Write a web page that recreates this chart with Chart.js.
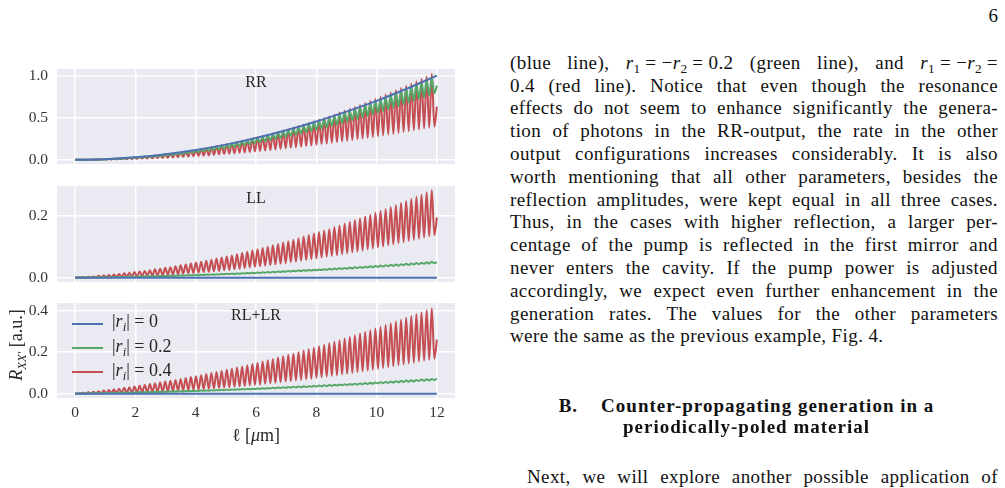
<!DOCTYPE html>
<html>
<head>
<meta charset="utf-8">
<script src="https://cdn.jsdelivr.net/npm/chart.js@4.4.1/dist/chart.umd.min.js"></script>
<style>
  html,body{margin:0;padding:0;}
  body{width:1005px;height:488px;background:#fff;position:relative;overflow:hidden;font-family:"Liberation Serif",serif;color:#111;}
  canvas{position:absolute;left:0;}
  .ln{position:absolute;left:510px;width:488px;font-size:19px;line-height:22.8px;letter-spacing:0.4px;text-align:justify;text-align-last:justify;white-space:nowrap;}
  .ln.last{text-align:left;text-align-last:left;}
  sub{font-size:70%;vertical-align:-0.3em;line-height:0;letter-spacing:0;}
  .hd{position:absolute;left:496px;width:501px;font-size:19px;line-height:22.8px;font-weight:bold;text-align:center;letter-spacing:1px;white-space:nowrap;}
  .lab{position:absolute;font-size:16px;line-height:20px;color:#262626;text-align:center;white-space:nowrap;}
  .leg{position:absolute;left:112px;font-size:18px;line-height:22px;color:#262626;white-space:nowrap;}
  .sw{position:absolute;left:72px;width:31px;height:2px;}
</style>
</head>
<body>
<canvas id="c1" width="470" height="135" style="top:49px"></canvas>
<canvas id="c2" width="470" height="136" style="top:166px"></canvas>
<canvas id="c3" width="470" height="165" style="top:283px"></canvas>

<div class="lab" style="left:206px;width:100px;top:72px;">RR</div>
<div class="lab" style="left:206px;width:100px;top:188px;">LL</div>
<div class="lab" style="left:206px;width:100px;top:305px;">RL+LR</div>

<div class="sw" style="top:322.5px;background:#4C72B0"></div>
<div class="sw" style="top:347px;background:#55A868"></div>
<div class="sw" style="top:371px;background:#C44E52"></div>
<div class="leg" style="top:310px;">|<i>r<sub>i</sub></i>|&#8197;=&#8197;0</div>
<div class="leg" style="top:334.5px;">|<i>r<sub>i</sub></i>|&#8197;=&#8197;0.2</div>
<div class="leg" style="top:358.5px;">|<i>r<sub>i</sub></i>|&#8197;=&#8197;0.4</div>

<div class="lab" style="left:-59px;width:150px;top:334px;font-size:18px;line-height:22px;transform:rotate(-90deg);"><i>R</i><sub><i>XX′</i></sub> [a.u.]</div>
<div class="lab" style="left:196px;width:120px;top:424px;font-size:18px;line-height:22px;">ℓ [<i>μ</i>m]</div>

<div style="position:absolute;left:900px;width:98px;text-align:right;top:5.2px;font-size:19px;line-height:22.8px;">6</div>

<div class="ln" style="top:51.7px">(blue line), <i>r</i><sub>1</sub>&#8197;=&#8197;−<i>r</i><sub>2</sub>&#8197;=&#8197;0.2 (green line), and <i>r</i><sub>1</sub>&#8197;=&#8197;−<i>r</i><sub>2</sub>&#8197;=</div>
<div class="ln" style="top:74.5px">0.4 (red line). Notice that even though the resonance</div>
<div class="ln" style="top:97.3px">effects do not seem to enhance significantly the genera-</div>
<div class="ln" style="top:120.1px">tion of photons in the RR-output, the rate in the other</div>
<div class="ln" style="top:142.9px">output configurations increases considerably. It is also</div>
<div class="ln" style="top:165.7px">worth mentioning that all other parameters, besides the</div>
<div class="ln" style="top:188.5px">reflection amplitudes, were kept equal in all three cases.</div>
<div class="ln" style="top:211.3px">Thus, in the cases with higher reflection, a larger per-</div>
<div class="ln" style="top:234.1px">centage of the pump is reflected in the first mirror and</div>
<div class="ln" style="top:256.9px">never enters the cavity. If the pump power is adjusted</div>
<div class="ln" style="top:279.7px">accordingly, we expect even further enhancement in the</div>
<div class="ln" style="top:302.5px">generation rates. The values for the other parameters</div>
<div class="ln last" style="top:325.3px">were the same as the previous example, Fig. 4.</div>

<div class="hd" style="top:394.5px">B.&nbsp;&nbsp;&nbsp;&nbsp;Counter-propagating generation in a</div>
<div class="hd" style="top:416px">periodically-poled material</div>

<div class="ln" style="top:465.5px;left:527px;width:471px;">Next, we will explore another possible application of</div>

<script>
// ---------- data ----------
const xTicks = [0, 2, 4, 6, 8, 10, 12];
const rrTicks = [0, 0.5, 1.0];
const llTicks = [0, 0.2];
const rlTicks = [0, 0.2, 0.4];
const seriesLabels = ['|r_i| = 0', '|r_i| = 0.2', '|r_i| = 0.4'];

// positions (µm) of the resonance maxima and minima
const peakX = [0.10,0.27,0.44,0.61,0.78,0.95,1.12,1.29,1.46,1.63,1.80,1.97,2.14,2.31,2.48,2.65,2.82,2.99,3.16,3.33,3.50,3.67,3.84,4.01,4.18,4.35,4.52,4.69,4.86,5.03,5.20,5.37,5.54,5.71,5.88,6.05,6.22,6.39,6.56,6.73,6.90,7.07,7.24,7.41,7.58,7.75,7.92,8.09,8.26,8.43,8.60,8.77,8.94,9.11,9.28,9.45,9.62,9.79,9.96,10.13,10.30,10.47,10.64,10.81,10.98,11.15,11.32,11.49,11.66,11.83];
const troughX = [0.185,0.355,0.525,0.695,0.865,1.035,1.205,1.375,1.545,1.715,1.885,2.055,2.225,2.395,2.565,2.735,2.905,3.075,3.245,3.415,3.585,3.755,3.925,4.095,4.265,4.435,4.605,4.775,4.945,5.115,5.285,5.455,5.625,5.795,5.965,6.135,6.305,6.475,6.645,6.815,6.985,7.155,7.325,7.495,7.665,7.835,8.005,8.175,8.345,8.515,8.685,8.855,9.025,9.195,9.365,9.535,9.705,9.875,10.045,10.215,10.385,10.555,10.725,10.895,11.065,11.235,11.405,11.575,11.745,11.915];

// RR panel
const blueRRX = [0,1,2,3,4,5,6,7,8,9,10,11,12];
const blueRR  = [0,0.007,0.029,0.065,0.116,0.180,0.258,0.350,0.455,0.572,0.700,0.843,1.000];
const greenRRPeak = [0.000,0.001,0.001,0.003,0.004,0.006,0.009,0.012,0.015,0.019,0.023,0.027,0.032,0.037,0.043,0.049,0.055,0.062,0.069,0.077,0.085,0.094,0.102,0.112,0.121,0.131,0.142,0.153,0.164,0.176,0.188,0.200,0.213,0.226,0.240,0.254,0.269,0.284,0.299,0.315,0.331,0.347,0.364,0.381,0.399,0.417,0.436,0.455,0.474,0.494,0.514,0.534,0.555,0.576,0.598,0.620,0.643,0.666,0.689,0.713,0.737,0.761,0.786,0.812,0.837,0.863,0.890,0.917,0.944,0.972];
const greenRRTrough = [0.000,0.001,0.002,0.003,0.004,0.006,0.008,0.010,0.013,0.016,0.020,0.023,0.028,0.032,0.037,0.042,0.047,0.053,0.058,0.065,0.071,0.078,0.086,0.093,0.101,0.109,0.118,0.127,0.136,0.145,0.155,0.165,0.176,0.187,0.198,0.209,0.221,0.233,0.245,0.258,0.271,0.284,0.298,0.312,0.326,0.341,0.356,0.371,0.387,0.403,0.419,0.436,0.452,0.470,0.487,0.505,0.523,0.542,0.561,0.580,0.599,0.619,0.639,0.659,0.680,0.701,0.723,0.744,0.766,0.789];
const greenRREnd = 0.88;
const redRRPeak = [0.000,0.001,0.001,0.003,0.004,0.007,0.009,0.012,0.016,0.019,0.024,0.028,0.033,0.039,0.045,0.051,0.058,0.065,0.073,0.081,0.089,0.098,0.108,0.117,0.127,0.138,0.149,0.160,0.172,0.184,0.197,0.210,0.224,0.238,0.252,0.267,0.282,0.298,0.314,0.330,0.347,0.364,0.382,0.400,0.419,0.438,0.457,0.477,0.497,0.518,0.539,0.561,0.583,0.605,0.628,0.651,0.675,0.699,0.723,0.748,0.774,0.799,0.826,0.852,0.879,0.907,0.934,0.963,0.991,1.021];
const redRRTrough = [0.000,0.000,0.001,0.001,0.002,0.003,0.004,0.005,0.007,0.008,0.010,0.012,0.014,0.016,0.018,0.021,0.023,0.026,0.029,0.032,0.036,0.039,0.043,0.047,0.051,0.055,0.059,0.063,0.068,0.073,0.078,0.083,0.088,0.093,0.099,0.105,0.110,0.116,0.123,0.129,0.136,0.142,0.149,0.156,0.163,0.171,0.178,0.186,0.193,0.201,0.210,0.218,0.226,0.235,0.244,0.253,0.262,0.271,0.280,0.290,0.300,0.309,0.320,0.330,0.340,0.351,0.361,0.372,0.383,0.394];
const redRREnd = 0.63;

// LL panel
const blueLLX = [0, 12];
const blueLL  = [0, 0];
const greenLLPeak = [0.0001,0.0003,0.0006,0.0008,0.0011,0.0012,0.0015,0.0019,0.0022,0.0025,0.0029,0.0033,0.0036,0.0040,0.0044,0.0048,0.0053,0.0057,0.0062,0.0066,0.0072,0.0077,0.0082,0.0088,0.0094,0.0100,0.0105,0.0111,0.0118,0.0124,0.0131,0.0138,0.0145,0.0151,0.0159,0.0166,0.0174,0.0182,0.0190,0.0198,0.0205,0.0214,0.0222,0.0231,0.0240,0.0249,0.0259,0.0268,0.0277,0.0286,0.0296,0.0306,0.0317,0.0327,0.0338,0.0347,0.0358,0.0369,0.0380,0.0392,0.0403,0.0415,0.0426,0.0438,0.0450,0.0462,0.0475,0.0487,0.0500,0.0512];
const greenLLTrough = [0.0002,0.0004,0.0006,0.0008,0.0011,0.0013,0.0016,0.0019,0.0021,0.0024,0.0028,0.0030,0.0034,0.0038,0.0041,0.0045,0.0050,0.0053,0.0058,0.0063,0.0067,0.0072,0.0077,0.0082,0.0087,0.0093,0.0098,0.0103,0.0109,0.0116,0.0121,0.0128,0.0134,0.0140,0.0147,0.0154,0.0160,0.0168,0.0175,0.0182,0.0190,0.0198,0.0206,0.0213,0.0221,0.0230,0.0237,0.0246,0.0255,0.0263,0.0272,0.0282,0.0290,0.0300,0.0310,0.0319,0.0329,0.0339,0.0348,0.0359,0.0370,0.0379,0.0390,0.0401,0.0413,0.0423,0.0435,0.0446,0.0457,0.0469];
const greenLLEnd = 0.050;
const redLLPeak = [0.001,0.002,0.003,0.004,0.006,0.007,0.009,0.010,0.012,0.014,0.016,0.018,0.020,0.022,0.024,0.027,0.029,0.032,0.034,0.037,0.040,0.043,0.046,0.049,0.052,0.055,0.058,0.062,0.065,0.069,0.072,0.076,0.080,0.084,0.088,0.092,0.096,0.100,0.105,0.109,0.114,0.118,0.123,0.128,0.133,0.138,0.143,0.148,0.153,0.158,0.164,0.169,0.175,0.180,0.186,0.192,0.198,0.204,0.210,0.216,0.222,0.229,0.235,0.242,0.248,0.255,0.262,0.269,0.276,0.283];
const redLLTrough = [0.000,0.000,0.000,0.000,0.001,0.001,0.001,0.002,0.002,0.003,0.003,0.004,0.005,0.006,0.006,0.007,0.008,0.009,0.010,0.011,0.013,0.014,0.015,0.016,0.018,0.019,0.021,0.022,0.024,0.025,0.027,0.029,0.031,0.033,0.035,0.037,0.039,0.041,0.043,0.045,0.047,0.050,0.052,0.055,0.057,0.060,0.062,0.065,0.068,0.070,0.073,0.076,0.079,0.082,0.085,0.088,0.092,0.095,0.098,0.101,0.105,0.108,0.112,0.115,0.119,0.123,0.126,0.130,0.134,0.138];
const redLLEnd = 0.195;

// RL+LR panel
const blueRLX = [0, 12];
const blueRL  = [0, 0];
const greenRLPeak = [0.0002,0.0006,0.0011,0.0014,0.0019,0.0024,0.0028,0.0033,0.0039,0.0044,0.0049,0.0056,0.0061,0.0067,0.0074,0.0080,0.0087,0.0094,0.0100,0.0108,0.0116,0.0123,0.0131,0.0139,0.0147,0.0155,0.0164,0.0172,0.0181,0.0191,0.0200,0.0209,0.0219,0.0228,0.0239,0.0249,0.0259,0.0270,0.0281,0.0292,0.0303,0.0315,0.0326,0.0338,0.0350,0.0361,0.0374,0.0387,0.0399,0.0412,0.0425,0.0438,0.0452,0.0466,0.0479,0.0493,0.0508,0.0521,0.0536,0.0551,0.0565,0.0581,0.0596,0.0611,0.0627,0.0643,0.0660,0.0675,0.0692,0.0709];
const greenRLTrough = [0.0004,0.0007,0.0011,0.0015,0.0019,0.0023,0.0027,0.0033,0.0037,0.0042,0.0047,0.0052,0.0058,0.0064,0.0069,0.0075,0.0082,0.0088,0.0094,0.0101,0.0108,0.0114,0.0122,0.0129,0.0136,0.0144,0.0152,0.0160,0.0168,0.0177,0.0185,0.0193,0.0203,0.0211,0.0220,0.0230,0.0240,0.0249,0.0259,0.0269,0.0279,0.0290,0.0300,0.0311,0.0321,0.0333,0.0344,0.0355,0.0367,0.0378,0.0390,0.0403,0.0415,0.0427,0.0440,0.0452,0.0465,0.0479,0.0492,0.0505,0.0519,0.0533,0.0546,0.0560,0.0575,0.0589,0.0603,0.0619,0.0633,0.0648];
const greenRLEnd = 0.072;
const redRLPeak = [0.001,0.004,0.007,0.009,0.012,0.015,0.018,0.021,0.024,0.028,0.031,0.034,0.038,0.042,0.046,0.049,0.053,0.058,0.062,0.066,0.070,0.075,0.080,0.084,0.089,0.094,0.099,0.104,0.109,0.115,0.120,0.126,0.131,0.137,0.143,0.149,0.155,0.161,0.167,0.174,0.180,0.187,0.193,0.200,0.207,0.214,0.221,0.228,0.235,0.242,0.250,0.257,0.265,0.273,0.281,0.289,0.297,0.305,0.313,0.321,0.330,0.338,0.347,0.356,0.365,0.374,0.383,0.392,0.401,0.411];
const redRLTrough = [0.000,0.000,0.000,0.001,0.001,0.001,0.002,0.002,0.003,0.003,0.004,0.005,0.006,0.007,0.008,0.009,0.010,0.011,0.012,0.014,0.015,0.017,0.018,0.020,0.021,0.023,0.025,0.027,0.029,0.031,0.033,0.035,0.037,0.040,0.042,0.044,0.047,0.050,0.052,0.055,0.058,0.060,0.063,0.066,0.069,0.072,0.076,0.079,0.082,0.086,0.089,0.093,0.096,0.100,0.104,0.107,0.111,0.115,0.119,0.123,0.127,0.132,0.136,0.140,0.145,0.149,0.154,0.158,0.163,0.168];
const redRLEnd = 0.26;

// ---------- building the datasets ----------
const COLORS = ['#4C72B0', '#55A868', '#C44E52'];

function pairs(xs, ys) { return xs.map((x, i) => ({x: x, y: ys[i]})); }
function fringes(peaks, troughs, endVal) {
  const pts = [{x: 0, y: 0}];
  for (let k = 0; k < peakX.length; k++) {
    pts.push({x: peakX[k], y: peaks[k]});
    pts.push({x: troughX[k], y: troughs[k]});
  }
  pts.push({x: 12, y: endVal});
  return pts;
}
function ds(label, color, data) {
  return {label: label, data: data, borderColor: color, backgroundColor: color, borderWidth: 2,
          pointRadius: 0, fill: false, cubicInterpolationMode: 'monotone'};
}

const bgPlugin = {
  id: 'axesbg',
  beforeDraw(chart) {
    const a = chart.chartArea, ctx = chart.ctx;
    ctx.save();
    ctx.fillStyle = '#EAEAF2';
    ctx.fillRect(a.left, a.top, a.right - a.left, a.bottom - a.top);
    ctx.restore();
  }
};

const tickFont = {family: 'Liberation Serif', size: 15.5};

function panel(id, datasets, yMin, yMax, yTicks, showX, xHeight) {
  return new Chart(document.getElementById(id), {
    type: 'line',
    data: {datasets: datasets},
    options: {
      responsive: false, animation: false, events: [],
      layout: {padding: {top: 20, right: 15, left: 0, bottom: 0}},
      plugins: {legend: {display: false}, tooltip: {enabled: false}},
      scales: {
        x: {
          type: 'linear', min: -0.6, max: 12.6,
          afterBuildTicks: s => { s.ticks = xTicks.map(v => ({value: v})); },
          afterFit: s => { s.height = xHeight; },
          grid: {color: '#ffffff', lineWidth: 1.5, drawTicks: false},
          border: {display: false},
          ticks: {display: showX, padding: 6, color: '#333', font: tickFont, callback: v => String(v)}
        },
        y: {
          type: 'linear', min: yMin, max: yMax,
          afterBuildTicks: s => { s.ticks = yTicks.map(v => ({value: v})); },
          afterFit: s => { s.width = 57; },
          grid: {color: '#ffffff', lineWidth: 1.5, drawTicks: false},
          border: {display: false},
          ticks: {padding: 9, color: '#333', font: tickFont, callback: v => Number(v).toFixed(1)}
        }
      }
    },
    plugins: [bgPlugin]
  });
}

panel('c1', [
  ds(seriesLabels[0], COLORS[0], pairs(blueRRX, blueRR)),
  ds(seriesLabels[1], COLORS[1], fringes(greenRRPeak, greenRRTrough, greenRREnd)),
  ds(seriesLabels[2], COLORS[2], fringes(redRRPeak, redRRTrough, redRREnd))
], -0.05, 1.078, rrTicks, false, 20);

panel('c2', [
  ds(seriesLabels[0], COLORS[0], pairs(blueLLX, blueLL)),
  ds(seriesLabels[1], COLORS[1], fringes(greenLLPeak, greenLLTrough, greenLLEnd)),
  ds(seriesLabels[2], COLORS[2], fringes(redLLPeak, redLLTrough, redLLEnd))
], -0.014, 0.297, llTicks, false, 20);

panel('c3', [
  ds(seriesLabels[0], COLORS[0], pairs(blueRLX, blueRL)),
  ds(seriesLabels[1], COLORS[1], fringes(greenRLPeak, greenRLTrough, greenRLEnd)),
  ds(seriesLabels[2], COLORS[2], fringes(redRLPeak, redRLTrough, redRLEnd))
], -0.021, 0.436, rlTicks, true, 50);
</script>
</body>
</html>
